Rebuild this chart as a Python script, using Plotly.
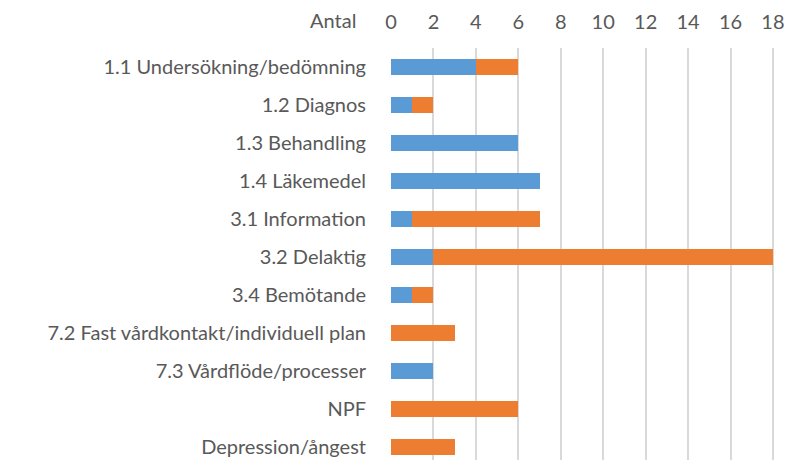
import plotly.graph_objects as go

categories = ["1.1 Undersökning/bedömning", "1.2 Diagnos", "1.3 Behandling", "1.4 Läkemedel",
              "3.1 Information", "3.2 Delaktig", "3.4 Bemötande",
              "7.2 Fast vårdkontakt/individuell plan", "7.3 Vårdflöde/processer", "NPF",
              "Depression/ångest"]
series_blue = [4, 1, 6, 7, 1, 2, 1, 0, 2, 0, 0]
series_orange = [2, 1, 0, 0, 6, 16, 1, 3, 0, 6, 3]
x_ticks = [0, 2, 4, 6, 8, 10, 12, 14, 16, 18]

font_family = "Lato, 'Open Sans', sans-serif"
fs = 20
fig = go.Figure()
fig.add_trace(go.Bar(y=categories, x=series_blue, orientation="h", name="A",
                     marker=dict(color="#5B9BD5", line=dict(width=0))))
fig.add_trace(go.Bar(y=categories, x=series_orange, orientation="h", name="B",
                     marker=dict(color="#ED7D31", line=dict(width=0))))

fig.update_layout(
    barmode="stack", bargap=0.6,
    width=787, height=460,
    margin=dict(l=391, r=13, t=48, b=0, autoexpand=False),
    paper_bgcolor="white", plot_bgcolor="white",
    showlegend=False,
    font=dict(family=font_family, size=fs, color="#595959"),
    xaxis=dict(side="top", range=[0, 18.05], tickvals=x_ticks, showgrid=True,
               gridcolor="#d9d9d9", gridwidth=1.5, zeroline=False,
               ticks="outside", ticklen=10, tickcolor="rgba(0,0,0,0)",
               ticklabeloverflow="allow",
               tickfont=dict(size=fs, color="#595959")),
    yaxis=dict(autorange=False, range=[10.34, -0.5], showgrid=False, zeroline=False,
               ticks="outside", ticklen=20, tickcolor="rgba(0,0,0,0)",
               tickfont=dict(size=fs, color="#595959")),
)
fig.add_annotation(text="Antal", xref="paper", yref="paper", x=0, y=1.0, xshift=-33, yshift=28,
                   xanchor="right", yanchor="middle", showarrow=False,
                   font=dict(size=fs, color="#595959", family=font_family))
fig.write_html("out.html", config={"displayModeBar": False},
               post_script="document.body.style.margin='0';document.body.style.overflow='hidden';")
